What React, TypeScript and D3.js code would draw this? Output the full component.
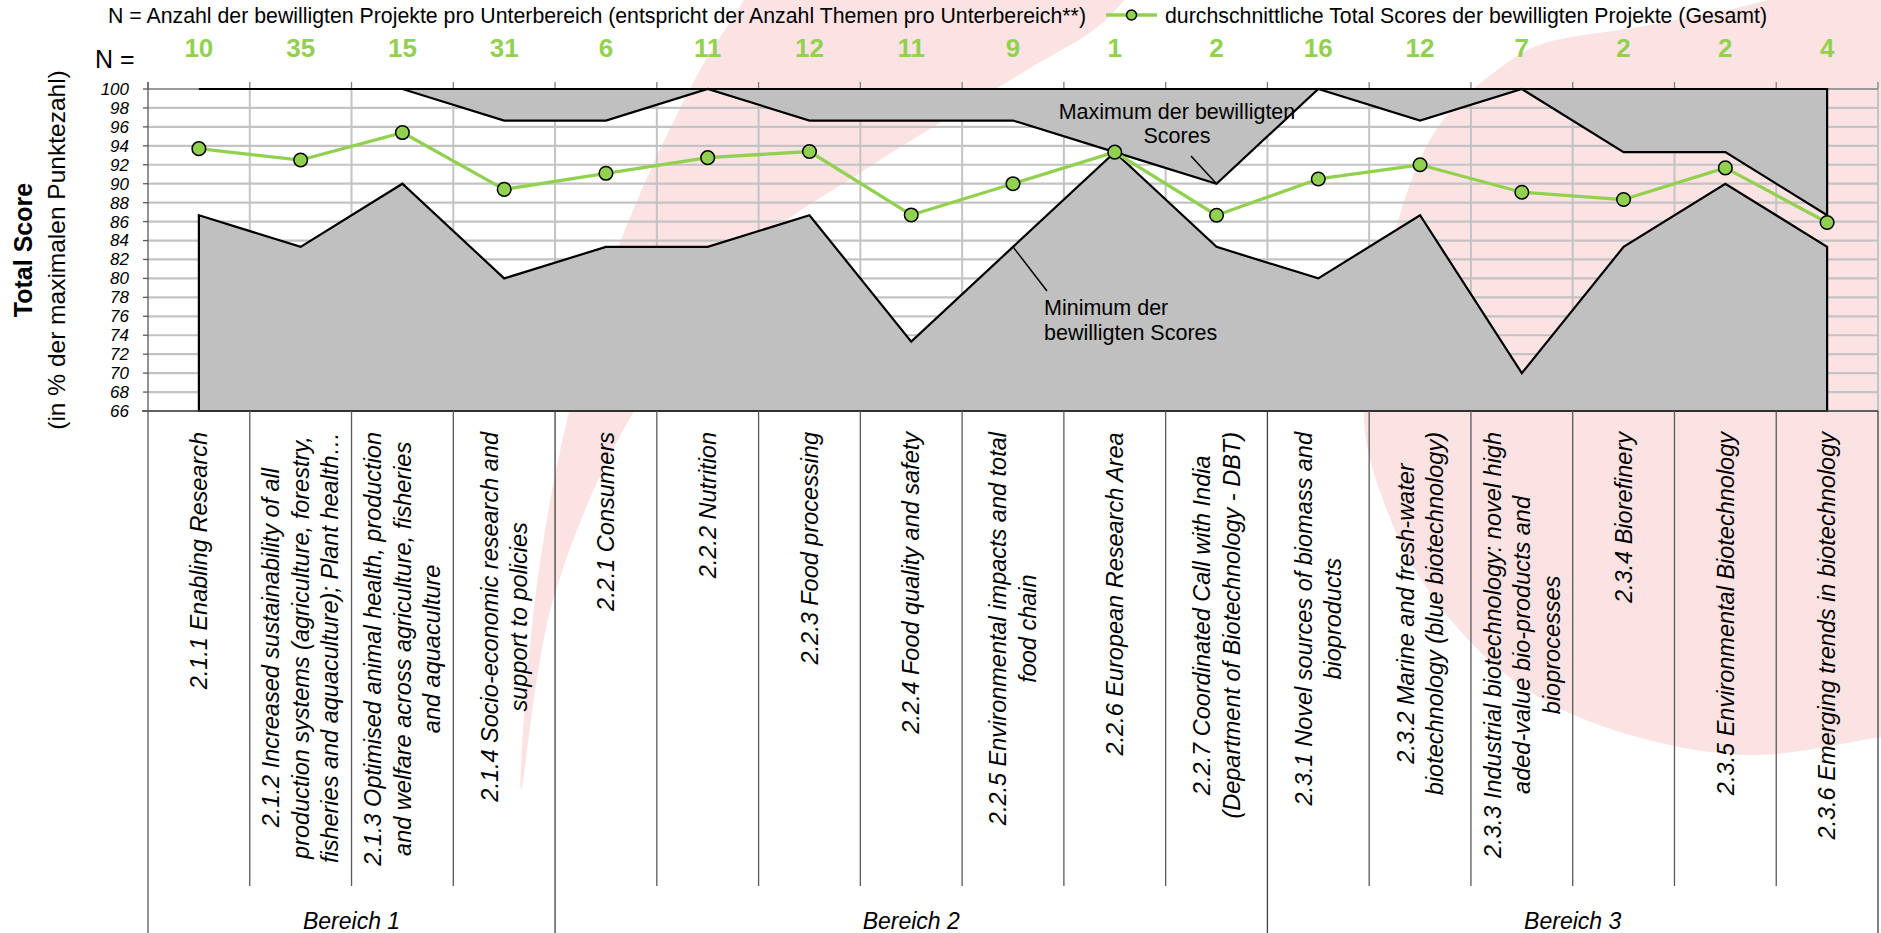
import React from "react";
import * as d3 from "d3";

const FONT = '"Liberation Sans", Arial, Helvetica, sans-serif';

// ---------- DATA ----------
const categories = [
  "2.1.1", "2.1.2", "2.1.3", "2.1.4",
  "2.2.1", "2.2.2", "2.2.3", "2.2.4", "2.2.5", "2.2.6", "2.2.7",
  "2.3.1", "2.3.2", "2.3.3", "2.3.4", "2.3.5", "2.3.6",
];

const categoryLabelLines: string[][] = [
  ["2.1.1 Enabling Research"],
  ["2.1.2 Increased sustainability of all", "production systems (agriculture, forestry,", "fisheries and aquaculture); Plant health…"],
  ["2.1.3 Optimised animal health, production", "and welfare across agriculture, fisheries", "and aquaculture"],
  ["2.1.4 Socio-economic research and", "support to policies"],
  ["2.2.1 Consumers"],
  ["2.2.2 Nutrition"],
  ["2.2.3 Food processing"],
  ["2.2.4 Food quality and safety"],
  ["2.2.5 Environmental impacts and total", "food chain"],
  ["2.2.6 European Research Area"],
  ["2.2.7 Coordinated Call with India", "(Department of Biotechnology - DBT)"],
  ["2.3.1 Novel sources of biomass and", "bioproducts"],
  ["2.3.2 Marine and fresh-water", "biotechnology (blue biotechnology)"],
  ["2.3.3 Industrial biotechnology: novel high", "aded-value bio-products and", "bioprocesses"],
  ["2.3.4 Biorefinery"],
  ["2.3.5 Environmental Biotechnology"],
  ["2.3.6 Emerging trends in biotechnology"],
];

const nValues = [10, 35, 15, 31, 6, 11, 12, 11, 9, 1, 2, 16, 12, 7, 2, 2, 4];

const avgScores = [93.7, 92.5, 95.4, 89.4, 91.1, 92.75, 93.4, 86.7, 90.0, 93.33, 86.67, 90.5, 92.0, 89.1, 88.33, 91.67, 85.9];
const minScores = [86.67, 83.33, 90, 80, 83.33, 83.33, 86.67, 73.33, 83.33, 93.33, 83.33, 80, 86.67, 70, 83.33, 90, 83.33];
const maxScores = [100, 100, 100, 96.67, 96.67, 100, 96.67, 96.67, 96.67, 93.33, 90, 100, 96.67, 100, 93.33, 93.33, 86.67];

const groupNames = ["Bereich 1", "Bereich 2", "Bereich 3"];
const groupSizes = [4, 7, 6];

const yTickValues = d3.range(66, 101, 2);

const titleText = "N = Anzahl der bewilligten Projekte pro Unterbereich (entspricht der Anzahl Themen pro Unterbereich**)";
const legendText = "durchschnittliche Total Scores der bewilligten Projekte (Gesamt)";

// ---------- LAYOUT ----------
const W = 1881;
const H = 933;
const PLOT = { left: 148, right: 1878, top: 89, bottom: 411 };
const GREEN = "#92d050";
const PINK = "#fce3e3";
const AREA_GREY = "#c0c0c0";
const GRID = "#c3c3c3";

let measureCtx: CanvasRenderingContext2D | null = null;
function measure(text: string, font: string): number {
  if (!measureCtx) measureCtx = document.createElement("canvas").getContext("2d");
  if (!measureCtx) return text.length * 11;
  measureCtx.font = font;
  return measureCtx.measureText(text).width;
}

export default function App() {
  const x = d3.scaleBand<string>().domain(categories).range([PLOT.left, PLOT.right]).padding(0);
  const bw = x.bandwidth();
  const cx = (i: number) => (x(categories[i]) as number) + bw / 2;
  const y = d3.scaleLinear().domain([66, 100]).range([PLOT.bottom, PLOT.top]);
  const idx = categories.map((_, i) => i);

  const minArea = d3.area<number>().x((i) => cx(i)).y0(y(66)).y1((i) => y(minScores[i]));
  const maxArea = d3.area<number>().x((i) => cx(i)).y0(y(100)).y1((i) => y(maxScores[i]));
  const avgLine = d3.line<number>().x((i) => cx(i)).y((i) => y(avgScores[i]));

  const boundaries = d3.range(0, categories.length + 1).map((k) => PLOT.left + k * bw);
  const groupStarts: number[] = [0];
  groupSizes.forEach((s, g) => groupStarts.push(groupStarts[g] + s));

  // decorative watermark
  const curve = d3.line().curve(d3.curveCatmullRom.alpha(0.5));
  const bandPts: [number, number][] = [
    [755, -25], [744, 0], [700, 70], [620, 243], [567, 420], [535, 600], [521, 790],
    [553, 600], [634, 411], [760, 243], [860, 173], [1027, 70], [1100, 25], [1145, -25],
  ];
  const blobPts: [number, number][] = [
    [1830, -25], [1767, 0], [1650, 25], [1539, 45], [1500, 68], [1443, 120], [1409, 187],
    [1380, 303], [1364, 420], [1383, 500], [1426, 587], [1504, 673], [1591, 722], [1743, 755],
    [1881, 737], [1910, 733],
  ];
  const bandPath = (curve(bandPts) || "") + "Z";
  const blobPath = (curve(blobPts) || "") + "L1910,-25Z";

  const labelFontSize = 23.5;
  const labelFont = `italic ${labelFontSize}px "Liberation Sans"`;
  const lineGap = 29.5;
  const labelTop = 432;

  const maxPointer = { i: 10 };
  const minPointer = { i: 8 };

  return (
    <svg
      width={W}
      height={H}
      style={{ position: "absolute", left: 0, top: 0, display: "block", background: "#ffffff" }}
      fontFamily={FONT}
    >
      {/* watermark */}
      <path d={bandPath} fill={PINK} />
      <path d={blobPath} fill={PINK} />

      {/* horizontal gridlines */}
      {yTickValues.map((v) => (
        <line key={"hg" + v} x1={PLOT.left} x2={PLOT.right} y1={y(v)} y2={y(v)} stroke={GRID} strokeWidth={2.2} />
      ))}
      {/* vertical gridlines */}
      {boundaries.slice(1).map((bx, k) => (
        <line key={"vg" + k} x1={bx} x2={bx} y1={PLOT.top} y2={PLOT.bottom} stroke={GRID} strokeWidth={2} />
      ))}
      {/* top ticks */}
      {boundaries.map((bx, k) => (
        <line key={"tt" + k} x1={bx} x2={bx} y1={PLOT.top - 7} y2={PLOT.top} stroke="#7f7f7f" strokeWidth={1.3} />
      ))}
      <line x1={PLOT.left} x2={PLOT.right} y1={PLOT.top} y2={PLOT.top} stroke="#8c8c8c" strokeWidth={1.5} />

      {/* areas */}
      <path d={maxArea(idx) || ""} fill={AREA_GREY} stroke="#000" strokeWidth={2.2} strokeLinejoin="miter" />
      <path d={minArea(idx) || ""} fill={AREA_GREY} stroke="#000" strokeWidth={2.2} strokeLinejoin="miter" />

      {/* axes */}
      <line x1={PLOT.left - 6} x2={PLOT.right} y1={PLOT.bottom} y2={PLOT.bottom} stroke="#404040" strokeWidth={1.6} />
      <line x1={PLOT.left} x2={PLOT.left} y1={PLOT.top - 7} y2={H} stroke="#595959" strokeWidth={1.3} />
      {yTickValues.map((v) => (
        <line key={"yt" + v} x1={PLOT.left - 5} x2={PLOT.left} y1={y(v)} y2={y(v)} stroke="#595959" strokeWidth={1.3} />
      ))}
      {yTickValues.map((v) => (
        <text key={"yl" + v} x={129} y={y(v)} dy="0.35em" textAnchor="end" fontSize={17} fontStyle="italic" fill="#000">
          {v}
        </text>
      ))}

      {/* category separators */}
      {boundaries.slice(1).map((bx, k) => {
        const kk = k + 1;
        const isGroup = groupStarts.includes(kk);
        return (
          <line key={"cs" + kk} x1={bx} x2={bx} y1={PLOT.bottom} y2={isGroup ? H : 886} stroke={isGroup ? "#404040" : "#595959"} strokeWidth={1.3} />
        );
      })}

      {/* average line */}
      <path d={avgLine(idx) || ""} fill="none" stroke={GREEN} strokeWidth={3.3} strokeLinejoin="round" />
      {idx.map((i) => (
        <circle key={"pt" + i} cx={cx(i)} cy={y(avgScores[i])} r={6.8} fill={GREEN} stroke="#000" strokeWidth={1.5} />
      ))}

      {/* annotations */}
      <line x1={1191} y1={156} x2={cx(maxPointer.i)} y2={y(maxScores[maxPointer.i])} stroke="#000" strokeWidth={1.5} />
      <text x={1177} y={119} textAnchor="middle" fontSize={21.5} fill="#000">Maximum der bewilligten</text>
      <text x={1177} y={143} textAnchor="middle" fontSize={21.5} fill="#000">Scores</text>

      <line x1={1047} y1={291} x2={cx(minPointer.i)} y2={y(minScores[minPointer.i])} stroke="#000" strokeWidth={1.5} />
      <text x={1044} y={315} textAnchor="start" fontSize={21.5} fill="#000">Minimum der</text>
      <text x={1044} y={340} textAnchor="start" fontSize={21.5} fill="#000">bewilligten Scores</text>

      {/* title + legend */}
      <text x={108} y={23} fontSize={21.3} fill="#000">{titleText}</text>
      <line x1={1106} x2={1157} y1={15} y2={15} stroke={GREEN} strokeWidth={3.3} />
      <circle cx={1131.5} cy={15} r={5} fill={GREEN} stroke="#000" strokeWidth={1.5} />
      <text x={1165} y={23} fontSize={21.3} fill="#000">{legendText}</text>

      {/* N row */}
      <text x={95} y={68} fontSize={25} fill="#000">N =</text>
      {idx.map((i) => (
        <text key={"n" + i} x={cx(i)} y={57} textAnchor="middle" fontSize={26} fontWeight="bold" fill={GREEN}>
          {nValues[i]}
        </text>
      ))}

      {/* y-axis title */}
      <text transform={`translate(23,${(PLOT.top + PLOT.bottom) / 2}) rotate(-90)`} dy="0.35em" textAnchor="middle" fontSize={25} fontWeight="bold" fill="#000">
        Total Score
      </text>
      <text transform={`translate(56,${(PLOT.top + PLOT.bottom) / 2}) rotate(-90)`} dy="0.35em" textAnchor="middle" fontSize={24.5} fill="#000">
        (in % der maximalen Punktezahl)
      </text>

      {/* category labels */}
      {idx.map((i) => {
        const lines = categoryLabelLines[i];
        const n = lines.length;
        const maxLen = d3.max(lines, (l) => measure(l, labelFont)) || 0;
        const yc = labelTop + maxLen / 2;
        return (
          <g key={"cl" + i}>
            {lines.map((l, j) => (
              <text
                key={j}
                transform={`translate(${cx(i) + (j - (n - 1) / 2) * lineGap},${yc}) rotate(-90)`}
                dy="0.35em"
                textAnchor="middle"
                fontSize={labelFontSize}
                fontStyle="italic"
                fill="#000"
              >
                {l}
              </text>
            ))}
          </g>
        );
      })}

      {/* group labels */}
      {groupNames.map((g, gi) => {
        const x0 = boundaries[groupStarts[gi]];
        const x1 = boundaries[groupStarts[gi + 1]];
        return (
          <text key={g} x={(x0 + x1) / 2} y={929} textAnchor="middle" fontSize={23} fontStyle="italic" fill="#000">
            {g}
          </text>
        );
      })}
    </svg>
  );
}
